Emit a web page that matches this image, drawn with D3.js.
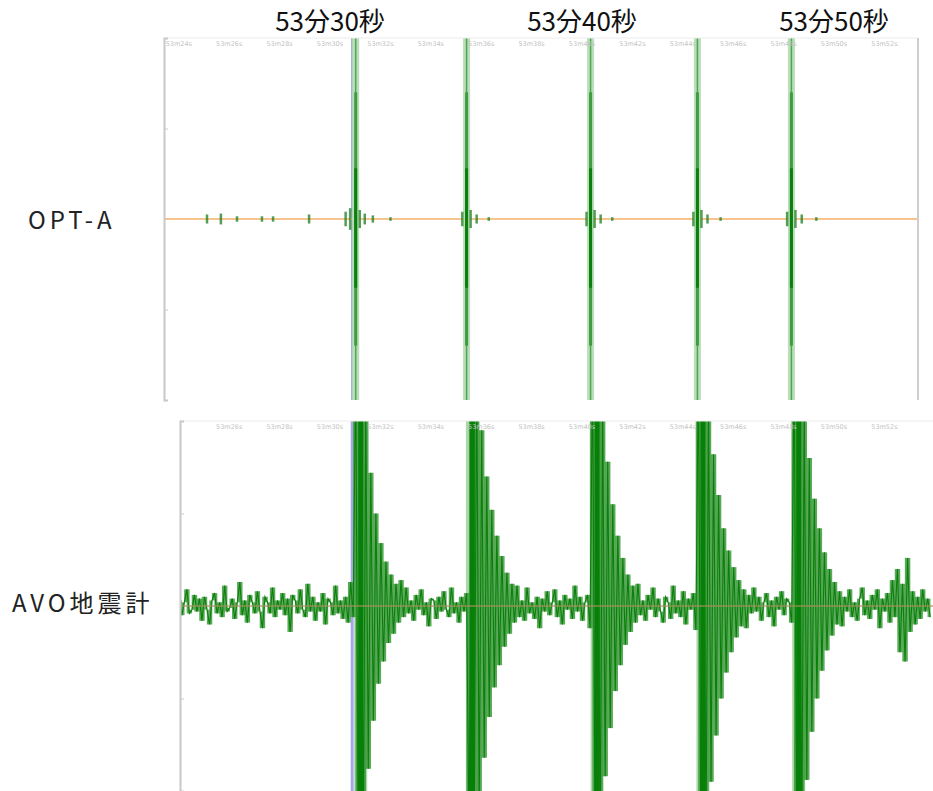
<!DOCTYPE html>
<html><head><meta charset="utf-8">
<script src="https://cdn.jsdelivr.net/npm/d3@7"></script>
<style>body{margin:0;background:#fff}svg{display:block}</style>
</head><body>
<svg id="c" width="933" height="791"></svg>
<script>
// ---- data ----
const titleSeconds = [30, 40, 50];
const titleLabels = ["53分30秒", "53分40秒", "53分50秒"];
const tickSeconds = [24, 26, 28, 30, 32, 34, 36, 38, 40, 42, 44, 46, 48, 50, 52];
const tickLabels = ["53m24s","53m26s","53m28s","53m30s","53m32s","53m34s","53m36s","53m38s","53m40s","53m42s","53m44s","53m46s","53m48s","53m50s","53m52s"];
const rowLabels = ["OPT-A", "AVO地震計"];
const cursorTime = 30.9;

const optEventTimes = [31.02, 35.42, 40.34, 44.58, 48.31];
const optBlipTimes = [25.12, 25.67, 26.31, 27.30, 27.74, 29.17, 30.62, 30.80, 31.18, 31.38, 31.70, 32.40,
                      35.25, 35.58, 35.82, 36.30, 40.18, 40.50, 40.74, 41.20, 44.42, 44.74, 44.98, 45.50,
                      48.14, 48.47, 48.72, 49.30];
const optBlipAmps  = [2.5, 3, 1.5, 1.5, 1.5, 2.5, 4, 6, 5, 3, 2, 1,
                      4, 5, 2.5, 1, 4, 5, 2.5, 1, 4, 5, 2.5, 1,
                      4, 5, 2.5, 1];

const avoEventTimes = [31.12, 35.55, 40.5, 44.7, 48.5];
const avoStart = 24.02, avoStep = 0.1;
const avoSamples = [
  3,-5,2,9,-4,-2,6,-3,4,-8,
  5,-2,-10,3,7,-4,2,-6,11,-3,
  -1,4,-7,2,13,-5,3,-9,6,2,
  -4,8,-3,-12,5,2,-4,10,-6,3,
  -2,7,-5,4,-14,6,3,-4,9,-2,
  -6,12,-3,5,-8,2,-3,7,-10,4,
  2,-5,11,-4,3,-7,5,-9,13,-6,
  130,-130,130,-130,
  105,-88,72,-62,50,-42,34,-30,24,-20,17,-15,
  12,-9,14,-6,10,-4,3,-8,6,-2,9,-5,2,-11,4,3,-7,5,-3,8,-2,-6,10,-4,2,-9,5,-3,7,
  -130,130,-130,130,
  -110,95,-82,70,-60,52,-44,38,-32,27,-22,18,-15,12,
  -9,11,-6,3,-8,10,-4,2,-7,5,-12,4,-3,8,-5,2,9,-6,3,-10,6,-2,4,-7,11,-3,5,-8,2,6,-12,
  130,-130,130,-130,
  108,-92,78,-66,55,-46,38,-32,26,-21,17,-14,11,
  -9,12,-5,3,-8,6,-2,10,-6,4,-3,-9,5,2,-7,11,-4,3,-6,8,-10,4,-2,7,-13,
  130,-130,130,-130,
  110,-95,82,-70,60,-50,42,-36,30,-25,21,-17,14,-11,
  9,-12,6,-4,10,-3,5,-8,2,7,-6,3,-11,5,-2,8,-5,4,2,-9,
  130,-130,130,-130,
  108,-94,80,-68,58,-50,42,-35,29,-24,20,-16,13,-10,
  8,-11,5,-3,9,-6,2,-8,4,10,-5,3,-7,6,-2,9,-12,4,-3,7,-9,14,-6,20,-25,12,-30,26,-14,8,-10,5,-7,9,-3,4,-6
];

// ---- chart ----
const svg = d3.select("#c");
const x = d3.scaleLinear().domain([30, 40]).range([330, 582]);
const FONT = "'Noto Sans CJK JP','Noto Sans',sans-serif";

svg.selectAll("text.title").data(titleSeconds).join("text")
  .attr("class", "title")
  .attr("x", d => x(d)).attr("y", 31)
  .attr("text-anchor", "middle")
  .attr("font-family", FONT).attr("font-size", 26).attr("fill", "#111")
  .text((d, i) => titleLabels[i]);

svg.append("text").attr("x", 28).attr("y", 229)
  .attr("font-family", FONT).attr("font-size", 24).attr("letter-spacing", 4).attr("fill", "#222")
  .text(rowLabels[0]);
svg.append("text").attr("x", 12).attr("y", 612)
  .attr("font-family", FONT).attr("font-size", 24).attr("letter-spacing", 4).attr("fill", "#222")
  .text(rowLabels[1]);

function panel(cfg) {
  const g = svg.append("g");
  const y = d3.scaleLinear().domain([-100, 100]).range([cfg.bottom, cfg.top]);
  const cid = "clip" + cfg.id;
  svg.append("clipPath").attr("id", cid).append("rect")
    .attr("x", cfg.left).attr("y", cfg.top).attr("width", cfg.right - cfg.left).attr("height", cfg.bottom - cfg.top);
  const inner = g.append("g").attr("clip-path", `url(#${cid})`);

  g.append("line").attr("x1", cfg.left).attr("x2", cfg.right).attr("y1", cfg.top).attr("y2", cfg.top)
    .attr("stroke", "#ececec").attr("stroke-width", 1);
  g.selectAll("text.tl").data(tickSeconds.map((s, i) => ({s, l: tickLabels[i]})).filter(d => x(d.s) > cfg.left + 6 && x(d.s) < cfg.right - 10))
    .join("text").attr("class", "tl")
    .attr("x", d => x(d.s)).attr("y", cfg.top + 8)
    .attr("text-anchor", "middle").attr("font-family", "DejaVu Sans, sans-serif")
    .attr("font-size", 6.5).attr("fill", "#c4c4c4")
    .text(d => d.l);
  const ax = g.append("g").attr("transform", `translate(${cfg.left},0)`)
    .call(d3.axisRight(y).tickValues([-50, 50]).tickSize(4).tickFormat(""));
  ax.select(".domain").attr("stroke", "#c8c8c8").attr("stroke-width", 2);
  ax.selectAll(".tick line").attr("stroke", "#c8c8c8");
  if (cfg.rightBorder) {
    g.append("line").attr("x1", cfg.right).attr("x2", cfg.right).attr("y1", cfg.top).attr("y2", cfg.bottom)
      .attr("stroke", "#cfcfcf").attr("stroke-width", 2);
  }
  return {g, inner, y};
}

// ---- top panel: OPT-A ----
{
  const P = panel({id: "a", left: 164, right: 918, top: 38, bottom: 400, rightBorder: true});
  const y = P.y, inner = P.inner;
  inner.append("line").attr("x1", x(cursorTime)).attr("x2", x(cursorTime)).attr("y1", 38).attr("y2", 400)
    .attr("stroke", "#8ea2d0").attr("stroke-width", 3);
  inner.append("line").attr("x1", 164).attr("x2", 918).attr("y1", y(0)).attr("y2", y(0))
    .attr("stroke", "#f7c48e").attr("stroke-width", 2);
  const ev = inner.selectAll("g.ev").data(optEventTimes).join("g").attr("class", "ev");
  ev.append("rect").attr("x", d => x(d) - 3.5).attr("width", 7).attr("y", 38).attr("height", 362)
    .attr("fill", "#b9deb9");
  ev.append("line").attr("x1", d => x(d)).attr("x2", d => x(d)).attr("y1", 38).attr("y2", 400)
    .attr("stroke", "#4fa64f").attr("stroke-width", 1.5);
  ev.append("rect").attr("x", d => x(d) - 1.5).attr("width", 3).attr("y", y(70)).attr("height", y(-70) - y(70))
    .attr("fill", "#3f9d3f");
  ev.append("rect").attr("x", d => x(d) - 1.5).attr("width", 3).attr("y", y(28)).attr("height", y(-38) - y(28))
    .attr("fill", "#0b7f0b");
  inner.selectAll("line.blip").data(optBlipTimes).join("line").attr("class", "blip")
    .attr("x1", d => x(d)).attr("x2", d => x(d))
    .attr("y1", (d, i) => y(optBlipAmps[i])).attr("y2", (d, i) => y(-optBlipAmps[i]))
    .attr("stroke", "#2b852b").attr("stroke-width", 2.5).attr("opacity", 0.8);
}

// ---- bottom panel: AVO ----
{
  const P = panel({id: "b", left: 180, right: 933, top: 421, bottom: 791, rightBorder: false});
  const y = P.y, inner = P.inner;
  inner.selectAll("rect.halo").data(avoEventTimes).join("rect").attr("class", "halo")
    .attr("x", d => x(d) - 4).attr("width", 13).attr("y", 421).attr("height", 370)
    .attr("fill", "#acd8ac");
  inner.append("line").attr("x1", x(cursorTime) - 0.5).attr("x2", x(cursorTime) - 0.5).attr("y1", 421).attr("y2", 791)
    .attr("stroke", "#a4a8e8").attr("stroke-width", 3);
  const tx = i => x(avoStart + i * avoStep);
  const segs = avoSamples.slice(0, -1).map((v, i) => ({i, lo: Math.min(v, avoSamples[i + 1]), hi: Math.max(v, avoSamples[i + 1])}));
  inner.selectAll("rect.seg").data(segs).join("rect").attr("class", "seg")
    .attr("x", d => tx(d.i) - 0.2).attr("width", d => tx(d.i + 1) - tx(d.i) + 0.4)
    .attr("y", d => y(d.hi)).attr("height", d => y(d.lo) - y(d.hi))
    .attr("fill", "#3c9a3c").attr("opacity", 0.85);
  const line = d3.line().x((d, i) => tx(i)).y(d => y(d));
  inner.append("path").datum(avoSamples).attr("d", line)
    .attr("fill", "none").attr("stroke", "#0a7f0a").attr("stroke-width", 1.1);
  inner.selectAll("rect.core").data(avoEventTimes).join("rect").attr("class", "core")
    .attr("x", d => x(d)).attr("width", 5).attr("y", 421).attr("height", 370)
    .attr("fill", "#07800a");
  inner.append("line").attr("x1", 180).attr("x2", 933).attr("y1", y(0)).attr("y2", y(0))
    .attr("stroke", "#a8905c").attr("stroke-width", 1.5).attr("opacity", 0.8);
}
</script>
</body></html>
